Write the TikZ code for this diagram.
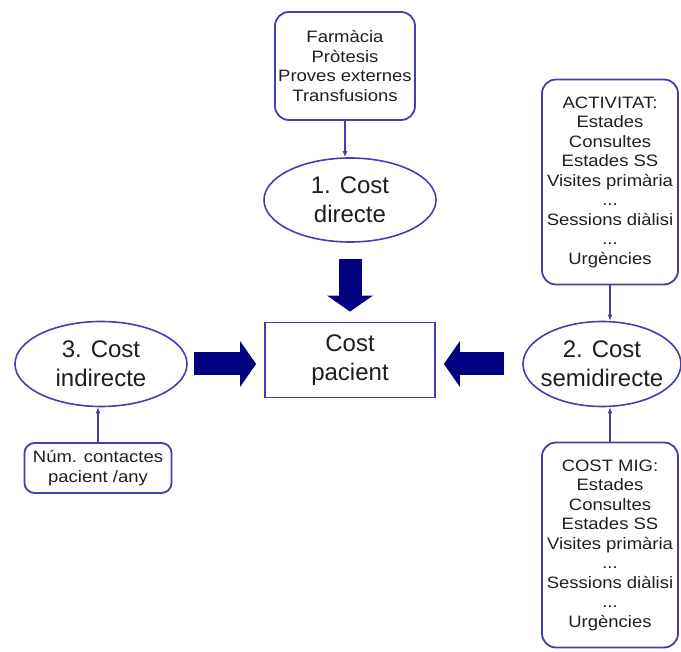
\documentclass[tikz,border=0pt]{standalone}
\usepackage{fontspec}
\setmainfont{Liberation Sans}
\newfontfamily\smallfont[FakeStretch=1.12]{Liberation Sans}
\usetikzlibrary{shapes.geometric,arrows.meta}
\definecolor{bordercol}{RGB}{64,64,176}
\definecolor{navyarrow}{RGB}{0,0,128}
\definecolor{txt}{RGB}{30,30,30}
\begin{document}
\begin{tikzpicture}[x=1pt,y=-1pt,
  bigtext/.style={font=\fontsize{24}{29}\selectfont, text=txt, align=center},
  smalltext/.style={font=\smallfont\fontsize{16.5}{19.5}\selectfont, text=txt, align=center},
  ell/.style={ellipse, draw=bordercol, line width=1.6pt, inner sep=0pt},
  rbox/.style={rectangle, rounded corners=14pt, draw=bordercol, line width=1.8pt, inner sep=0pt, smalltext},
  sqbox/.style={rectangle, draw=bordercol, line width=1.8pt, inner sep=0pt, bigtext},
  conn/.style={draw=bordercol, line width=1.4pt, -{Latex[length=6pt,width=5pt]}},
  bigarrow/.style={draw=navyarrow, line width=23pt, -{Triangle[length=16pt,width=45pt]}}
]
\useasboundingbox (0,0) rectangle (681,652);

\node[rbox, minimum width=140pt, minimum height=108pt] (top) at (345,66)
  {Farmàcia\\Pròtesis\\Proves externes\\Transfusions};
\node[ell, minimum width=172pt, minimum height=84pt,
  label={[bigtext]center:{1. Cost\\directe}}] (e1) at (350,200) {};
\node[sqbox, minimum width=170pt, minimum height=75pt] (pac) at (350,360) {Cost\\pacient};
\node[ell, minimum width=172pt, minimum height=85pt,
  label={[bigtext]center:{3. Cost\\indirecte}}] (e3) at (101,364) {};
\node[ell, minimum width=158pt, minimum height=85pt,
  label={[bigtext]center:{2. Cost\\semidirecte}}] (e2) at (602,364) {};
\node[rbox, minimum width=136pt, minimum height=205pt] (act) at (610,182)
  {ACTIVITAT:\\Estades\\Consultes\\Estades SS\\Visites primària\\...\\Sessions diàlisi\\...\\Urgències};
\node[rbox, minimum width=136pt, minimum height=205pt] (mig) at (610,545)
  {COST MIG:\\Estades\\Consultes\\Estades SS\\Visites primària\\...\\Sessions diàlisi\\...\\Urgències};
\node[rbox, rounded corners=10pt, minimum width=147pt, minimum height=50pt] (small) at (98,468)
  {Núm. contactes\\pacient /any};

\draw[conn] (top.south) -- (top.south |- e1.north);
\draw[conn] (act.south) -- (act.south |- e2.north);
\draw[conn] (mig.north) -- (mig.north |- e2.south);
\draw[conn] (small.north) -- (small.north |- e3.south);

\draw[bigarrow, shorten <=16pt, shorten >=10pt] (e1.south) -- (e1.south |- pac.north);
\draw[bigarrow, shorten <=6pt, shorten >=8pt] (e3.east) -- (e3.east -| pac.west);
\draw[bigarrow, shorten <=18pt, shorten >=8pt] (e2.west) -- (e2.west -| pac.east);
\end{tikzpicture}
\end{document}
